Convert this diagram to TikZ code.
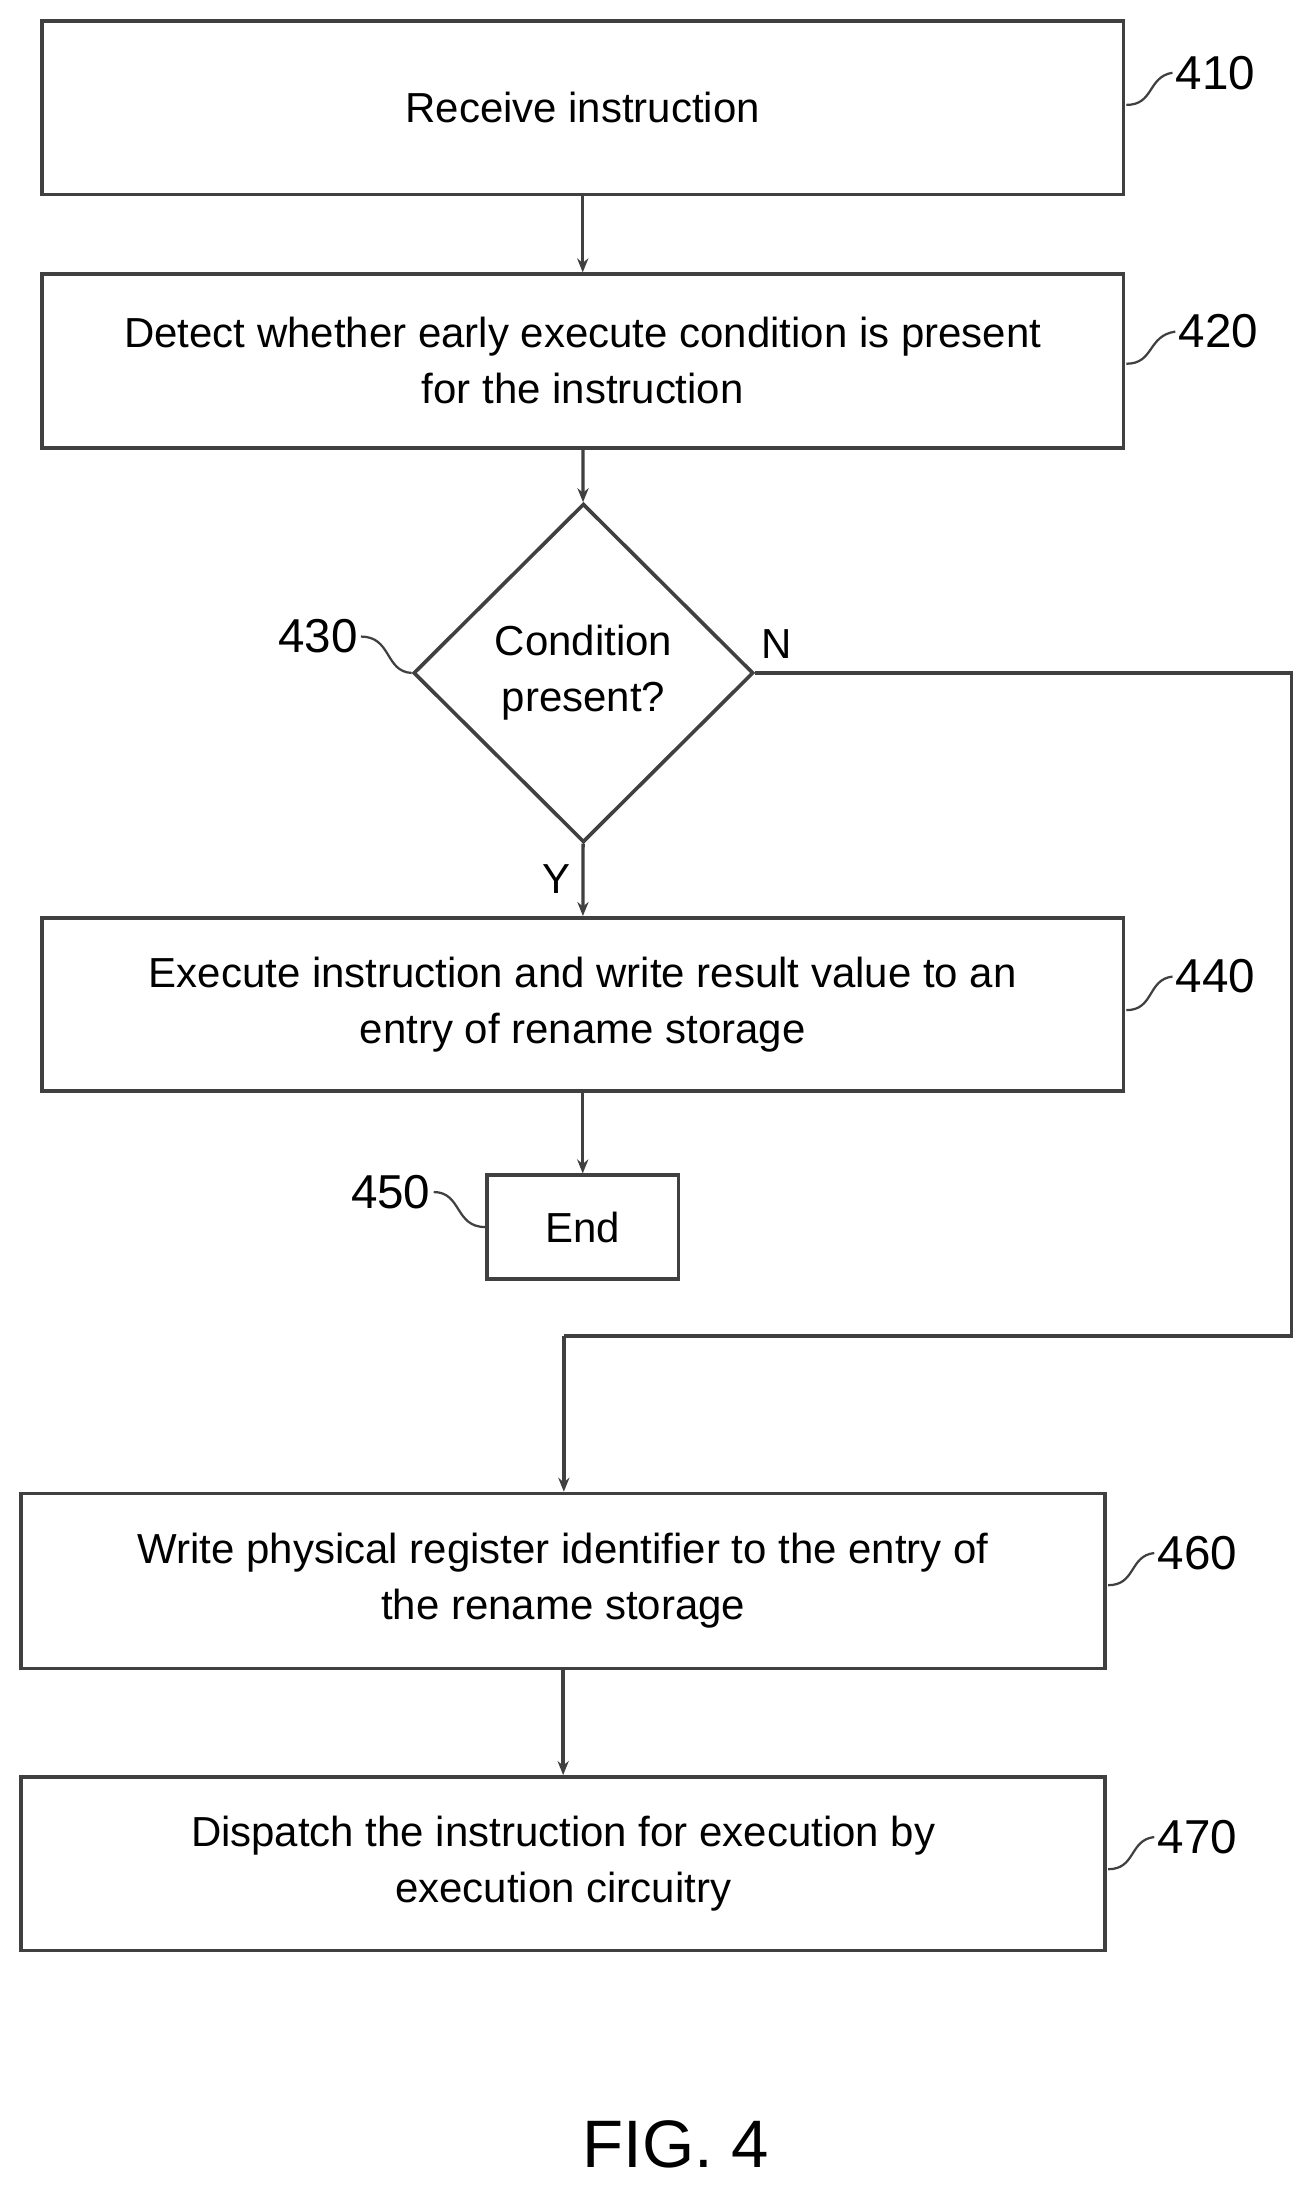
\documentclass[tikz,border=0pt]{standalone}
\usepackage{fontspec}
\setmainfont{Liberation Sans}
\usetikzlibrary{shapes.geometric,arrows.meta}
\begin{document}
\begin{tikzpicture}[x=0.5pt,y=-0.5pt,
 box/.style={draw=black!75,line width=1.3pt,inner sep=0,align=center,font=\fontsize{15}{20}\selectfont},
 lbl/.style={font=\fontsize{17}{20}\selectfont,anchor=west,inner sep=1pt},
 sq/.style={draw=black!75,line width=0.8pt},
 arr/.style={draw=black!75,line width=1.2pt,-{Stealth[length=5pt,width=4pt]}}]
\useasboundingbox (0,0) rectangle (940,1566);
\node[box,minimum width=386.5pt,minimum height=62pt] (b410) at (416.5,77) {Receive instruction};
\node[box,minimum width=386.5pt,minimum height=62pt] (b420) at (416.5,258) {Detect whether early execute condition is present\\for the instruction};
\node[box,diamond,minimum width=121.5pt,minimum height=121pt,aspect=1] (d430) at (417,481) {Condition\\present?};
\node[box,minimum width=386.5pt,minimum height=62pt] (b440) at (416.5,718) {Execute instruction and write result value to an\\entry of rename storage};
\node[box,minimum width=68.5pt,minimum height=37pt] (b450) at (416.5,877) {End};
\node[box,minimum width=387.5pt,minimum height=62.5pt] (b460) at (402.5,1130) {Write physical register identifier to the entry of\\the rename storage};
\node[box,minimum width=387.5pt,minimum height=62pt] (b470) at (402.5,1332) {Dispatch the instruction for execution by\\execution circuitry};
\coordinate (c1) at (923,481); \coordinate (c2) at (923,955); \coordinate (c3) at (403,955);
\draw[arr] (b410) -- (b420);
\draw[arr] (b420) -- (d430);
\draw[arr] (d430) -- (b440);
\draw[arr] (b440) -- (b450);
\draw[line width=1.2pt,draw=black!75] (d430.east) -- (c1) -- (c2) -- (c3);
\draw[arr] (c3) -- (c3 |- b460.north);
\draw[arr] (b460) -- (b470);
\node at (555,460) [font=\fontsize{15}{18}\selectfont] (n) {N};
\node at (398,628) [font=\fontsize{15}{18}\selectfont] (y) {Y};
\node[lbl] (l410) at (838,52) {410}; \draw[sq] (805,75) .. controls (825,75) and (820,55) .. (l410.west);
\node[lbl] (l420) at (840,237) {420}; \draw[sq] (805,260) .. controls (825,260) and (820,240) .. (l420.west);
\node[lbl] (l440) at (838,698) {440}; \draw[sq] (805,722) .. controls (825,722) and (820,700) .. (l440.west);
\node[lbl] (l460) at (825,1110) {460}; \draw[sq] (792,1133) .. controls (812,1133) and (807,1112) .. (l460.west);
\node[lbl] (l470) at (825,1313) {470}; \draw[sq] (792,1336) .. controls (812,1336) and (807,1315) .. (l470.west);
\node[lbl,anchor=east] (l430) at (258,455) {430}; \draw[sq] (l430.east) .. controls (280,455) and (275,480) .. (d430.west);
\node[lbl,anchor=east] (l450) at (310,852) {450}; \draw[sq] (l450.east) .. controls (330,852) and (325,877) .. (b450.west);
\node[font=\fontsize{24}{28}\selectfont] (fig) at (483,1533) {FIG. 4};
\end{tikzpicture}
\end{document}
